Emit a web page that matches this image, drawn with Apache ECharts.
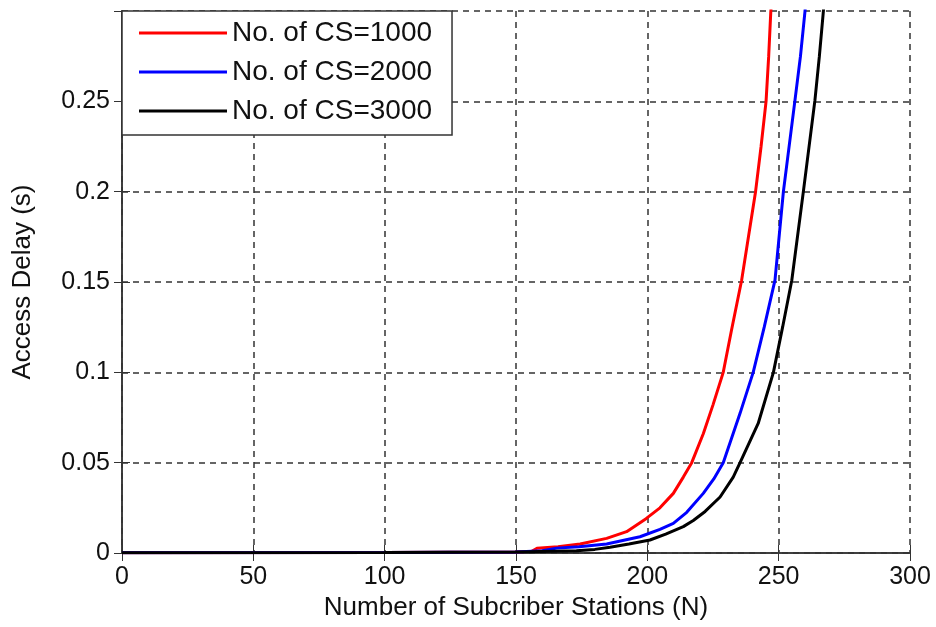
<!DOCTYPE html>
<html>
<head>
<meta charset="utf-8">
<script src="https://cdn.jsdelivr.net/npm/echarts@6/dist/echarts.min.js"></script>
<style>
  html, body { margin: 0; padding: 0; background: #fff; }
  #chart { width: 936px; height: 627px; }
</style>
</head>
<body>
<div id="chart"></div>
<script>
var chart = echarts.init(document.getElementById('chart'));

// x: number of subscriber stations, y: access delay (s)
var nCS1000 = [0, 100, 150, 156, 158, 166, 174.4, 184.5, 192.1, 199.5, 204.8, 209.9, 213.7, 216.9, 221.3, 225, 228.9, 232, 235.9, 238.5, 241.2, 243.3, 245.2, 246.2, 247, 247.6];
var dCS1000 = [0.0002, 0.0003, 0.0005, 0.001, 0.0026, 0.0035, 0.005, 0.0081, 0.0118, 0.019, 0.025, 0.033, 0.042, 0.05, 0.066, 0.082, 0.1, 0.123, 0.151, 0.175, 0.2, 0.225, 0.25, 0.275, 0.2995, 0.31];

var nCS2000 = [0, 100, 150, 160, 165.5, 174, 184.5, 197.2, 204.8, 209.9, 215, 221.3, 225.3, 228.9, 235.3, 240.3, 244.5, 248.6, 251.8, 256.2, 258.3, 260, 260.6];
var dCS2000 = [0.0002, 0.0003, 0.0005, 0.0012, 0.0027, 0.0035, 0.005, 0.009, 0.0131, 0.0164, 0.0225, 0.033, 0.041, 0.05, 0.0773, 0.1, 0.125, 0.151, 0.2, 0.2505, 0.275, 0.2995, 0.31];

var nCS3000 = [0, 100, 150, 173, 180, 185.8, 193, 201, 207, 213.7, 217.5, 222, 227.7, 232.7, 235.3, 242.2, 248, 251.5, 255, 259.4, 263.8, 265.5, 267, 267.6];
var dCS3000 = [0.0002, 0.0003, 0.0005, 0.0012, 0.002, 0.0032, 0.005, 0.0072, 0.0105, 0.0146, 0.018, 0.023, 0.031, 0.042, 0.05, 0.0717, 0.1, 0.125, 0.151, 0.2, 0.2505, 0.275, 0.2995, 0.31];

var seriesNames = ['No. of CS=1000', 'No. of CS=2000', 'No. of CS=3000'];
var seriesColors = ['#ff0000', '#0000ff', '#000000'];

function pairs(xs, ys) {
    var out = [];
    for (var i = 0; i < xs.length; i++) out.push([xs[i], ys[i]]);
    return out;
}
var allData = [pairs(nCS1000, dCS1000), pairs(nCS2000, dCS2000), pairs(nCS3000, dCS3000)];

var fontFam = 'Liberation Sans, Arial, sans-serif';
var txt = '#111';
var frame = { show: true, lineStyle: { color: '#333', width: 1.5 } };
var grid = { show: true, type: [6, 5], color: '#333', width: 1.5 };

option = {
    animation: false,
    backgroundColor: '#fff',
    grid: { left: 122, right: 26, top: 11, bottom: 74 },
    legend: {
        left: 122, top: 11,
        orient: 'vertical',
        backgroundColor: '#fff',
        borderColor: '#333',
        borderWidth: 1.5,
        padding: [7, 20, 9, 17],
        itemWidth: 88,
        itemHeight: 3,
        itemGap: 9,
        icon: 'rect',
        selectedMode: false,
        textStyle: { fontFamily: fontFam, fontSize: 28, color: txt, lineHeight: 30 },
        data: seriesNames
    },
    xAxis: [
        {
            type: 'value', min: 0, max: 300, interval: 50,
            name: 'Number of Subcriber Stations (N)',
            nameLocation: 'middle', nameGap: 41,
            nameTextStyle: { fontFamily: fontFam, fontSize: 26, color: txt },
            axisLine: frame,
            axisTick: { show: true, inside: true, length: 8, lineStyle: { color: '#333' } },
            axisLabel: { fontFamily: fontFam, fontSize: 25, color: txt, margin: 12 },
            splitLine: { show: true, lineStyle: grid }
        },
        {
            type: 'value', min: 0, max: 300, interval: 50, position: 'top',
            axisLine: frame,
            axisTick: { show: true, inside: true, length: 8, lineStyle: { color: '#333' } },
            axisLabel: { show: false },
            splitLine: { show: false }
        }
    ],
    yAxis: [
        {
            type: 'value', min: 0, max: 0.3, interval: 0.05,
            name: 'Access Delay (s)',
            nameLocation: 'middle', nameGap: 86, nameRotate: 90,
            nameTextStyle: { fontFamily: fontFam, fontSize: 26, color: txt },
            axisLine: frame,
            axisTick: { show: true, inside: true, length: 8, lineStyle: { color: '#333' } },
            axisLabel: {
                fontFamily: fontFam, fontSize: 25, color: txt, margin: 12,
                formatter: function (v) { return v > 0.29 ? '' : String(+v.toFixed(2)); }
            },
            splitLine: { show: true, lineStyle: grid }
        },
        {
            type: 'value', min: 0, max: 0.3, interval: 0.05, position: 'right',
            axisLine: frame,
            axisTick: { show: true, inside: true, length: 8, lineStyle: { color: '#333' } },
            axisLabel: { show: false },
            splitLine: { show: false }
        }
    ],
    series: seriesNames.map(function (name, i) {
        return {
            name: name,
            type: 'line',
            xAxisIndex: 0, yAxisIndex: 0,
            showSymbol: false,
            symbol: 'none',
            clip: true,
            itemStyle: { color: seriesColors[i] },
            lineStyle: { color: seriesColors[i], width: 3 },
            data: allData[i]
        };
    })
};
chart.setOption(option);
</script>
</body>
</html>
